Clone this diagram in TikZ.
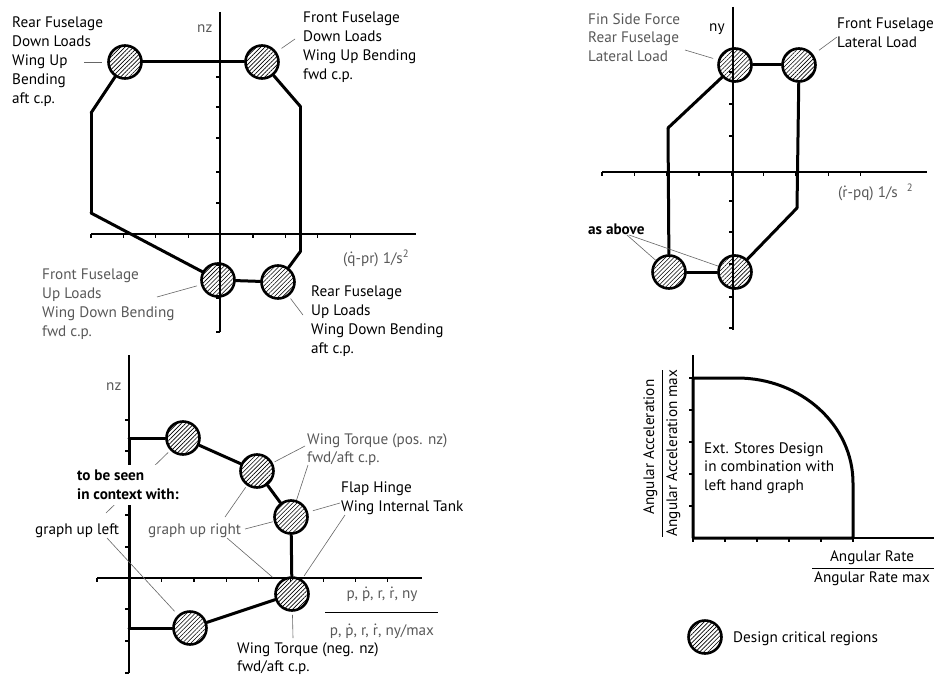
\documentclass[tikz,border=0pt]{standalone}
\usepackage{fontspec}
\setmainfont{PT Sans}
\usetikzlibrary{patterns.meta}
\newcommand\topdot[1]{\ooalign{#1\cr\hidewidth\raisebox{0.6em}{.}\hidewidth\cr}}

\begin{document}
\begin{tikzpicture}[every node/.style={inner sep=0pt,font=\fontsize{15.2pt}{18.8pt}\selectfont},
	crit/.style={circle, minimum size=33pt, line width=2.6pt, draw=black,
		pattern={Lines[angle=45,distance=3pt,line width=0.6pt]}},
	lbl/.style={anchor=north west, align=left},
	pale/.style={text=black!65},
	bld/.style={font=\fontsize{15.2pt}{18.8pt}\selectfont\bfseries},
	axis/.style={line width=1.2pt},
	lead/.style={line width=0.6pt, color=black!60, shorten >=3pt},
	every edge/.style={draw, line width=3pt, line cap=round}
]
\useasboundingbox[fill=white] (0pt,0pt) rectangle (934pt,-677pt);

% axes and ticks
\draw[axis] (91pt,-234pt) -- (416pt,-234pt);
\draw[axis] (220pt,-12pt) -- (220pt,-332pt);
\foreach \i in {0,...,8} \draw[axis] (91pt+\i*32.4pt,-234pt) -- ++(0pt,-4pt);
\foreach \y in {77,107,138,172,203,265,298,332} \draw[axis] (220pt,-\y pt) -- ++(-4pt,0pt);

\draw[axis] (602pt,-172pt) -- (927pt,-172pt);
\draw[axis] (733pt,-7pt) -- (733pt,-330pt);
\foreach \i in {0,...,8} \draw[axis] (602pt+\i*32.3pt,-172pt) -- ++(0pt,-4pt);
\foreach \y in {72,104,136,201,232,264,297,328} \draw[axis] (733pt,-\y pt) -- ++(-4pt,0pt);

\draw[axis] (97pt,-578pt) -- (422pt,-578pt);
\draw[axis] (129pt,-355pt) -- (129pt,-673pt);
\foreach \i in {0,...,9} \draw[axis] (97pt+\i*32.3pt,-578pt) -- ++(0pt,-4pt);
\foreach \y in {420,451,483,515,547,609,641,673} \draw[axis] (129pt,-\y pt) -- ++(-4pt,0pt);

\draw[axis] (693pt,-355pt) -- (693pt,-538pt);
\draw[axis] (693pt,-538pt) -- (934pt,-538pt);
\foreach \i in {0,...,5} \draw[axis] (693pt+\i*32pt,-538pt) -- ++(0pt,-4pt);
\foreach \y in {378,410,442,474,506} \draw[axis] (693pt,-\y pt) -- ++(-4pt,0pt);

% critical regions
\node (1) [crit] at (125pt,-62pt) {};
\node (2) [crit] at (262pt,-62pt) {};
\node (3) [crit] at (278pt,-282pt) {};
\node (4) [crit] at (218pt,-280pt) {};
\node (5) [crit] at (735pt,-65pt) {};
\node (6) [crit] at (799pt,-65pt) {};
\node (7) [crit] at (735pt,-272pt) {};
\node (8) [crit] at (669pt,-272pt) {};
\node (9) [crit] at (183pt,-438pt) {};
\node (10) [crit] at (257pt,-471pt) {};
\node (11) [crit] at (291pt,-517pt) {};
\node (12) [crit] at (292pt,-594pt) {};
\node (13) [crit] at (190pt,-628pt) {};
\node (14) [crit] at (705pt,-637pt) {};

\coordinate (a1) at (300pt,-106pt);
\coordinate (a2) at (300pt,-252pt);
\coordinate (a3) at (91pt,-213pt);
\coordinate (a4) at (91pt,-113pt);
\coordinate (b1) at (797pt,-208pt);
\coordinate (b2) at (668pt,-128pt);
\coordinate (c1) at (129pt,-438pt);
\coordinate (c2) at (129pt,-628pt);
\coordinate (d1) at (693pt,-378pt);
\coordinate (d2) at (737pt,-378pt);
\coordinate (d3) at (853pt,-538pt);
\coordinate (d4) at (693pt,-538pt);

% envelopes
\path
(1) edge (2)
(2) edge (a1)
(a1) edge (a2)
(a2) edge (3)
(3) edge (4)
(4) edge (a3)
(a3) edge (a4)
(a4) edge (1);
\path
(5) edge (6)
(6) edge (b1)
(b1) edge (7)
(7) edge (8)
(8) edge (b2)
(b2) edge (5);
\path
(c1) edge (9)
(9) edge (10)
(10) edge (11)
(11) edge (12)
(12) edge (13)
(13) edge (c2)
(c2) edge (c1);
\draw[line width=3pt, line join=round] (d1) -- (d2)
  arc[start angle=90, end angle=0, x radius=116pt, y radius=105pt] -- (d3) -- (d4) -- cycle;

% leaders
\coordinate (p1) at (84pt,-62pt);
\coordinate (p2) at (295pt,-39pt);
\coordinate (p3) at (157pt,-297pt);
\coordinate (p4) at (303pt,-315pt);
\coordinate (p5) at (685pt,-50pt);
\coordinate (p6) at (837pt,-37pt);
\coordinate (p7) at (627pt,-235pt);
\coordinate (p8) at (629pt,-235pt);
\coordinate (p9) at (106pt,-513pt);
\coordinate (p10) at (305pt,-446pt);
\coordinate (p11) at (308pt,-465pt);
\coordinate (p12) at (340pt,-503pt);
\coordinate (p13) at (345pt,-515pt);
\coordinate (p14) at (107pt,-538pt);
\coordinate (p15) at (245pt,-529pt);
\coordinate (p16) at (225pt,-517pt);
\coordinate (p17) at (227pt,-538pt);
\coordinate (p18) at (293pt,-638pt);
\draw[lead, shorten >=6pt] (p1) -- (1);
\draw[lead, shorten >=6pt] (p2) -- (2);
\draw[lead, shorten >=4pt] (p3) -- (4);
\draw[lead] (p4) -- (3);
\draw[lead, shorten >=5pt] (p5) -- (5);
\draw[lead, shorten >=7pt] (p6) -- (6);
\draw[lead, shorten >=0pt] (p7) -- (8);
\draw[lead, shorten >=0pt] (p8) -- (7);
\draw[lead] (p9) -- (9);
\draw[lead, shorten >=2pt] (p10) -- (10);
\draw[lead, shorten >=0pt] (p11) -- (11);
\draw[lead, shorten >=5pt] (p12) -- (11);
\draw[lead, shorten >=4pt] (p13) -- (12);
\draw[lead, shorten >=5pt] (p14) -- (13);
\draw[lead, shorten >=1pt] (p15) -- (11);
\draw[lead, shorten >=2pt] (p16) -- (10);
\draw[lead, shorten >=8pt] (p17) -- (12);
\draw[lead] (p18) -- (12);

% labels upper left
\node (rfdown) [lbl] at (12pt,-17pt) {Rear Fuselage\\Down Loads\\Wing Up\\Bending\\aft c.p.};
\node (ffdown) [lbl] at (303pt,-12pt) {Front Fuselage\\Down Loads\\Wing Up Bending\\fwd c.p.};
\node (ffup) [lbl, pale] at (42pt,-269pt) {Front Fuselage\\Up Loads\\Wing Down Bending\\fwd c.p.};
\node (rfup) [lbl] at (311pt,-286pt) {Rear Fuselage\\Up Loads\\Wing Down Bending\\aft c.p.};
\node (nz1) [pale, anchor=base west] at (197pt,-33pt) {nz};
\node (qax) [pale, anchor=base west] at (343pt,-263pt) {(\topdot{q}-pr) 1/s\textsuperscript{2}};

% labels upper right
\node (fin) [lbl, pale] at (588pt,-13pt) {Fin Side Force\\Rear Fuselage\\Lateral Load};
\node (fflat) [lbl] at (837pt,-18pt) {Front Fuselage\\Lateral Load};
\node (ny) [anchor=base west] at (709pt,-32pt) {ny};
\node (rax) [pale, anchor=base west] at (838pt,-197pt) {(\topdot{r}-pq) 1/s\hspace{9pt}\textsuperscript{2}};
\node (asabove) [bld, anchor=base west] at (588pt,-234pt) {as above};

% labels lower left
\node (nz2) [pale, anchor=base west] at (106pt,-390pt) {nz};
\node (wtpos) [lbl, pale] at (307pt,-433pt) {Wing Torque (pos. nz)\\fwd/aft c.p.};
\node (seen) [lbl, bld, fill=white, inner ysep=5pt] at (77pt,-465pt) {to be seen\\in context with:};
\node (flap) [lbl] at (341pt,-482pt) {Flap Hinge\\Wing Internal Tank};
\node (upleft) [anchor=base west] at (35pt,-534pt) {graph up left};
\node (upright) [pale, anchor=base west] at (148pt,-534pt) {graph up right};
\node (wtneg) [lbl] at (237pt,-642pt) {Wing Torque (neg. nz)\\fwd/aft c.p.};
\node (pnum) [pale, anchor=base] at (382pt,-598pt) {p, \topdot{p}, r, \topdot{r}, ny};
\node (pden) [pale, anchor=base] at (382pt,-635pt) {p, \topdot{p}, r, \topdot{r}, ny/max};
\draw[line width=0.9pt] (325pt,-612pt) -- (438pt,-612pt);

% lower right graph
\node (ext) [lbl] at (704pt,-442pt) {Ext. Stores Design\\in combination with\\left hand graph};
\node (accnum) [rotate=90, anchor=base] at (654pt,-447pt) {Angular Acceleration};
\node (accden) [rotate=90, anchor=base] at (677pt,-453pt) {Angular Acceleration max};
\draw[line width=0.9pt] (662pt,-370pt) -- (662pt,-537pt);
\node (ratenum) [anchor=base] at (872pt,-561pt) {Angular Rate};
\node (rateden) [anchor=base] at (872pt,-582pt) {Angular Rate max};
\draw[line width=0.9pt] (812pt,-568pt) -- (934pt,-568pt);
\node (legend) [anchor=base west] at (733pt,-642pt) {Design critical regions};
\end{tikzpicture}
\end{document}
